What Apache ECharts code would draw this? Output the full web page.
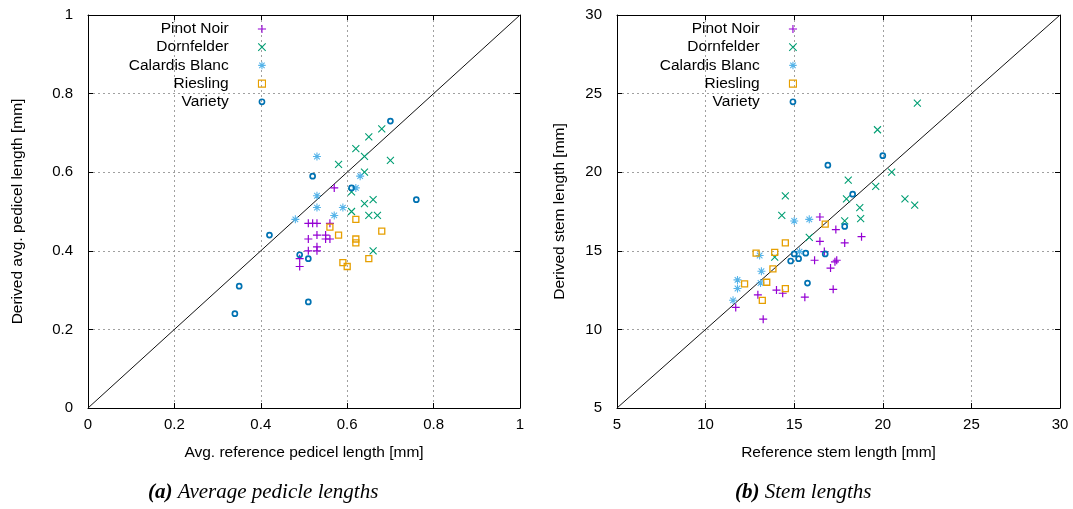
<!DOCTYPE html>
<html>
<head>
<meta charset="utf-8">
<script src="https://cdn.jsdelivr.net/npm/echarts@6/dist/echarts.min.js"></script>
<style>
html,body{margin:0;padding:0;background:#fff;}
#chart{width:1073px;height:509px;}
</style>
</head>
<body>
<div id="chart"></div>
<script>
// ---- Series names ----
var varietyNames = ['Pinot Noir', 'Dornfelder', 'Calardis Blanc', 'Riesling', 'Variety'];

// ---- (a) Average pedicel lengths [mm]: [reference, derived] ----
var pedPinot = [[0.57,0.56],[0.51,0.47],[0.52,0.47],[0.53,0.47],[0.56,0.47],[0.53,0.44],[0.51,0.43],[0.55,0.44],[0.55,0.43],[0.56,0.43],[0.51,0.40],[0.53,0.41],[0.53,0.40],[0.49,0.38],[0.49,0.36]];
var pedDornfelder = [[0.68,0.71],[0.65,0.69],[0.62,0.66],[0.64,0.64],[0.70,0.63],[0.58,0.62],[0.64,0.60],[0.61,0.55],[0.66,0.53],[0.64,0.52],[0.61,0.50],[0.65,0.49],[0.67,0.49],[0.66,0.40]];
var pedCalardis = [[0.53,0.64],[0.63,0.59],[0.62,0.56],[0.53,0.54],[0.53,0.51],[0.59,0.51],[0.57,0.49],[0.48,0.48]];
var pedRiesling = [[0.62,0.48],[0.56,0.46],[0.68,0.45],[0.58,0.44],[0.62,0.43],[0.62,0.42],[0.65,0.38],[0.59,0.37],[0.60,0.36]];
var pedVariety = [[0.34,0.24],[0.35,0.31],[0.42,0.44],[0.49,0.39],[0.51,0.38],[0.51,0.27],[0.52,0.59],[0.61,0.56],[0.70,0.73],[0.76,0.53]];

// ---- (b) Stem lengths [mm]: [reference, derived] ----
var stemPinot = [[16.45,17.15],[17.35,16.35],[18.8,15.9],[16.45,15.6],[17.85,15.5],[16.7,14.95],[16.15,14.4],[17.3,14.3],[17.4,14.4],[17.05,13.9],[14.0,12.5],[14.35,12.3],[12.95,12.2],[15.6,12.05],[17.2,12.55],[11.7,11.4],[13.25,10.65]];
var stemDornfelder = [[19.7,22.7],[20.5,20.0],[18.05,19.5],[19.6,19.1],[17.95,18.3],[21.25,18.3],[21.8,17.9],[18.7,17.75],[14.5,18.5],[14.3,17.25],[18.75,17.05],[17.85,16.9],[15.85,15.85],[13.9,14.6],[21.95,24.4]];
var stemCalardis = [[15.0,16.9],[15.85,17.0],[15.3,14.95],[13.05,14.7],[13.15,13.7],[11.8,13.15],[11.8,12.6],[13.1,12.95],[11.55,11.85]];
var stemRiesling = [[16.75,16.7],[14.5,15.5],[12.85,14.85],[13.9,14.9],[13.8,13.85],[12.2,12.9],[13.45,13.0],[14.5,12.6],[13.2,11.85]];
var stemVariety = [[20.0,21.05],[16.9,20.45],[18.3,18.6],[17.85,16.55],[15.0,14.8],[14.8,14.35],[15.25,14.5],[15.65,14.85],[16.75,14.8],[15.75,12.95]];

// ---- Identity lines ----
var pedIdentity = [[0,0],[1,1]];
var stemIdentity = [[5,5],[30,30]];

// ---- Axis ranges ----
var pedRange = {min: 0, max: 1, interval: 0.2};
var stemRange = {min: 5, max: 30, interval: 5};

// ---- Styles ----
var colors = ['#9400d3', '#009e73', '#56b4e9', '#e69f00', '#0072b2'];
var symbols = [
  'path://M0,5L10,5M5,0L5,10',
  'path://M0,0L10,10M10,0L0,10',
  'path://M0,5L10,5M5,0L5,10M1.5,1.5L8.5,8.5M8.5,1.5L1.5,8.5',
  'rect',
  'circle'
];
// legend icons: padded inside a 9x9 box via leading move-to points
var legendIcons = [
  'path://M0,0M9,9M1,4.5L8,4.5M4.5,1L4.5,8',
  'path://M0,0M9,9M1.3,1.3L7.7,7.7M7.7,1.3L1.3,7.7',
  'path://M0,0M9,9M1.3,4.5L7.7,4.5M4.5,1.3L4.5,7.7M2.2,2.2L6.8,6.8M6.8,2.2L2.2,6.8',
  'path://M0,0M9,9M1.5,1.5L7.5,1.5L7.5,7.5L1.5,7.5Z',
  'path://M0,0M9,9M4.5,2.3A2.2,2.2,0,1,1,4.5,6.7A2.2,2.2,0,1,1,4.5,2.3Z'
];
var sizes = [8, 7, 8, 6, 5];
var widths = [1.2, 1.1, 1.1, 1.3, 1.7];
var FONT = 'Liberation Sans';
var FS = 15;
var FS_NAME = 15.5;

var pedSets = [pedPinot, pedDornfelder, pedCalardis, pedRiesling, pedVariety];
var stemSets = [stemPinot, stemDornfelder, stemCalardis, stemRiesling, stemVariety];

function scatterSeries(sets, axisIdx) {
  return sets.map(function (d, i) {
    return {
      type: 'scatter', name: varietyNames[i],
      xAxisIndex: axisIdx, yAxisIndex: axisIdx,
      data: d, symbol: symbols[i], symbolSize: sizes[i],
      itemStyle: {color: 'transparent', borderColor: colors[i], borderWidth: widths[i], opacity: 1},
      emphasis: {disabled: true}, silent: true, z: 3
    };
  });
}
function idLine(d, axisIdx) {
  return {
    type: 'line', data: d, xAxisIndex: axisIdx, yAxisIndex: axisIdx,
    symbol: 'none', lineStyle: {color: '#111', width: 1}, silent: true, z: 2
  };
}
var grey = '#a0a0a0';
function mainX(grid, r, name) {
  return {
    type: 'value', gridIndex: grid, position: 'bottom', min: r.min, max: r.max, interval: r.interval,
    axisLine: {show: true, onZero: false, lineStyle: {color: '#000', width: 1}},
    axisTick: {show: true, inside: true, length: 5, lineStyle: {color: '#000'}},
    splitLine: {show: true, lineStyle: {color: grey, type: [2, 3], width: 1}},
    axisLabel: {color: '#000', fontSize: FS, fontFamily: FONT, margin: 9},
    name: name, nameLocation: 'middle', nameGap: 37,
    nameTextStyle: {color: '#000', fontSize: FS_NAME, fontFamily: FONT}
  };
}
function mirrorX(grid, r) {
  return {
    type: 'value', gridIndex: grid, position: 'top', min: r.min, max: r.max, interval: r.interval,
    axisLine: {show: true, onZero: false, lineStyle: {color: '#000', width: 1}},
    axisTick: {show: true, inside: true, length: 5, lineStyle: {color: '#000'}},
    splitLine: {show: false}, axisLabel: {show: false}
  };
}
function mainY(grid, r, name, gap) {
  return {
    type: 'value', gridIndex: grid, position: 'left', min: r.min, max: r.max, interval: r.interval,
    axisLine: {show: true, onZero: false, lineStyle: {color: '#000', width: 1}},
    axisTick: {show: true, inside: true, length: 5, lineStyle: {color: '#000'}},
    splitLine: {show: true, lineStyle: {color: grey, type: [2, 3], width: 1}},
    axisLabel: {color: '#000', fontSize: FS, fontFamily: FONT, margin: 15},
    name: name, nameLocation: 'middle', nameGap: gap, nameRotate: 90,
    nameTextStyle: {color: '#000', fontSize: FS_NAME, fontFamily: FONT}
  };
}
function mirrorY(grid, r) {
  return {
    type: 'value', gridIndex: grid, position: 'right', min: r.min, max: r.max, interval: r.interval,
    axisLine: {show: true, onZero: false, lineStyle: {color: '#000', width: 1}},
    axisTick: {show: true, inside: true, length: 5, lineStyle: {color: '#000'}},
    splitLine: {show: false}, axisLabel: {show: false}
  };
}
function legendAt(rightPx) {
  return {
    data: varietyNames.map(function (n, i) {
      return {name: n, icon: legendIcons[i],
        itemStyle: {color: 'transparent', borderColor: colors[i], borderWidth: i === 4 ? 1.6 : 1.1}};
    }),
    orient: 'vertical', align: 'right',
    right: rightPx, top: 21, padding: 0, itemGap: 2.2,
    itemWidth: 10.5, itemHeight: 10.5, selectedMode: false,
    textStyle: {color: '#000', fontSize: FS_NAME, fontFamily: FONT, lineHeight: 16, padding: [0, 23, 0, 0]}
  };
}
var captionStyle = {
  color: '#000', fontFamily: 'Liberation Serif', fontStyle: 'italic', fontSize: 21, fontWeight: 'normal',
  rich: {b: {fontFamily: 'Liberation Serif', fontStyle: 'italic', fontWeight: 'bold', fontSize: 21, color: '#000'}}
};

var option = {
  animation: false,
  backgroundColor: '#fff',
  title: [
    {text: '{b|(a)} Average pedicle lengths', left: 148, top: 482, padding: 0, textStyle: captionStyle},
    {text: '{b|(b)} Stem lengths', left: 735, top: 482, padding: 0, textStyle: captionStyle}
  ],
  legend: [legendAt(805), legendAt(274)],
  grid: [
    {left: 88, top: 15, width: 432, height: 393, show: false},
    {left: 617, top: 15, width: 443, height: 393, show: false}
  ],
  xAxis: [
    mainX(0, pedRange, 'Avg. reference pedicel length [mm]'),
    mirrorX(0, pedRange),
    mainX(1, stemRange, 'Reference stem length [mm]'),
    mirrorX(1, stemRange)
  ],
  yAxis: [
    mainY(0, pedRange, 'Derived avg. pedicel length [mm]', 62),
    mirrorY(0, pedRange),
    mainY(1, stemRange, 'Derived stem length [mm]', 49),
    mirrorY(1, stemRange)
  ],
  series: [idLine(pedIdentity, 0)]
    .concat(scatterSeries(pedSets, 0))
    .concat([idLine(stemIdentity, 2)])
    .concat(scatterSeries(stemSets, 2))
};

var chart = echarts.init(document.getElementById('chart'), null, {renderer: 'canvas'});
chart.setOption(option);
</script>
</body>
</html>
